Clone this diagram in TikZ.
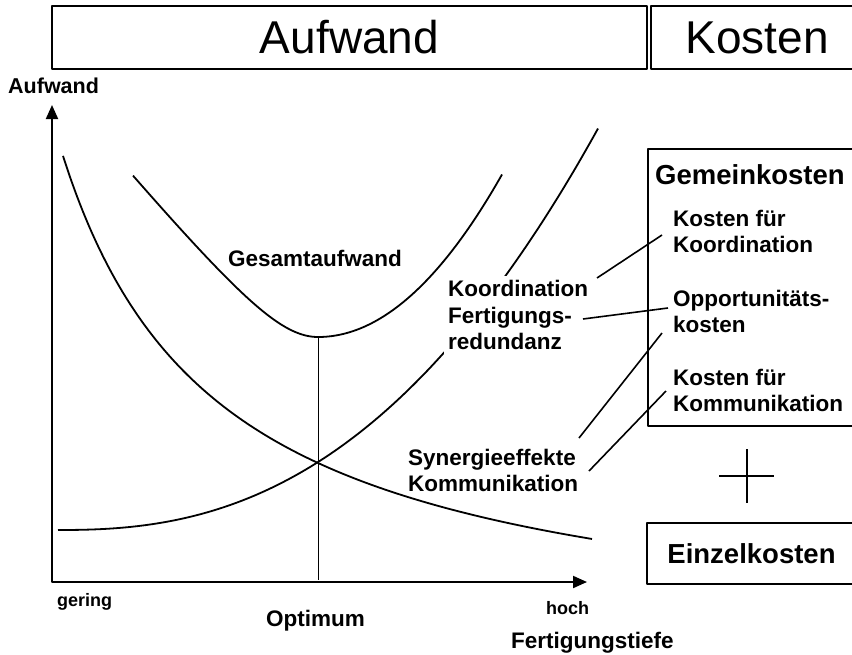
\documentclass[tikz,border=0pt]{standalone}
\usepackage{fontspec}
\setmainfont{Liberation Sans}
\usetikzlibrary{arrows.meta}

\begin{document}
\begin{tikzpicture}[x=1pt, y=-1pt, line join=round,
box_style/.style={draw=black, line width=1.6pt, inner sep=0pt},
label_style/.style={font=\fontsize{22.5}{27}\selectfont\bfseries, inner sep=0pt, anchor=base west},
small_style/.style={font=\fontsize{18}{21}\selectfont\bfseries, inner sep=0pt, anchor=base west},
cover_style/.style={label_style, fill=white, inner sep=4pt, text depth=5pt},
curve_style/.style={draw=black, line width=1.8pt, samples=80, smooth},
axis_style/.style={draw=black, line width=2pt, {Triangle[length=14pt,width=12pt]}-{Triangle[length=14pt,width=12pt]}},
edge_style/.style={draw=black, line width=1.6pt}]
\useasboundingbox (0,0) rectangle (852,654);

% title boxes
\node[box_style, minimum width=595pt, minimum height=63pt, font=\fontsize{46}{50}\selectfont] (top_aufwand) at (349.5,37.5) {Aufwand};
\node[box_style, minimum width=212pt, minimum height=63pt, font=\fontsize{46}{50}\selectfont] (top_kosten) at (757,37.5) {Kosten};

% axes
\coordinate (origin) at (52,582);
\coordinate (y_tip) at (52,105);
\coordinate (x_tip) at (587,582);
\draw[axis_style] (y_tip) -- (origin) -- (x_tip);
\node[label_style, font=\fontsize{21.5}{25}\selectfont\bfseries] (y_label) at (8,93) {Aufwand};
\node[small_style] (gering) at (57,606) {gering};
\node[small_style] (hoch) at (546,614) {hoch};
\node[label_style] (optimum) at (266,626) {Optimum};
\node[label_style] (x_label) at (511,648) {Fertigungstiefe};

% curves
\draw[curve_style, domain=133:318] plot (\x, {337 - 12*(sqrt(((\x-318)/10)^2+36) - 6)});
\draw[curve_style, domain=318:502] plot (\x, {337 - 0.48*((\x-318)/10)^2});
\draw[curve_style, domain=63:592] plot (\x, {653.6 - 787.9/((\x+95.3)/100)});
\draw[curve_style, domain=58:598] plot (\x, {530 - 6.56*((\x-57)/100)^2.437});
\coordinate (opt_min) at (318,337);
\coordinate (opt_foot) at (318,580);
\draw[line width=0.8pt] (opt_min) -- (opt_foot);

\node[label_style] (gesamt) at (228,266) {Gesamtaufwand};
\node[cover_style] (koord_l) at (444,296) {Koordination};
\node[cover_style] (fert_l) at (444,323) {Fertigungs-};
\node[cover_style] (redund_l) at (444,349) {redundanz};
\node[label_style] (synergie_l) at (408,465) {Synergieeffekte};
\node[label_style] (komm_l) at (408,491) {Kommunikation};

% cost boxes
\node[box_style, minimum width=208pt, minimum height=277pt] (gemein_box) at (752,287.5) {};
\node[label_style, font=\fontsize{27.5}{32}\selectfont\bfseries] (gemein) at (655,184) {Gemeinkosten};
\node[label_style] (kost_koord1) at (673,226) {Kosten für};
\node[label_style] (kost_koord2) at (673,252) {Koordination};
\node[label_style] (opport1) at (673,306) {Opportunitäts-};
\node[label_style] (opport2) at (673,332) {kosten};
\node[label_style] (kost_komm1) at (673,385) {Kosten für};
\node[label_style] (kost_komm2) at (673,411) {Kommunikation};
\draw[line width=1.5pt] (747,449) -- (747,503) (719,476) -- (774,476);
\node[box_style, minimum width=209pt, minimum height=61pt, font=\fontsize{27.5}{32}\selectfont\bfseries] (einzel) at (751.5,553.5) {Einzelkosten};

% connectors
\coordinate (c1_a) at (597,278);
\coordinate (c1_b) at (662,235);
\coordinate (c2_a) at (583,319);
\coordinate (c2_b) at (668,308);
\coordinate (c3_a) at (579,438);
\coordinate (c3_b) at (662,333);
\coordinate (c4_a) at (589,471);
\coordinate (c4_b) at (666,391);
\draw[edge_style] (c1_a) -- (c1_b);
\draw[edge_style] (c2_a) -- (c2_b);
\draw[edge_style] (c3_a) -- (c3_b);
\draw[edge_style] (c4_a) -- (c4_b);
\end{tikzpicture}
\end{document}
